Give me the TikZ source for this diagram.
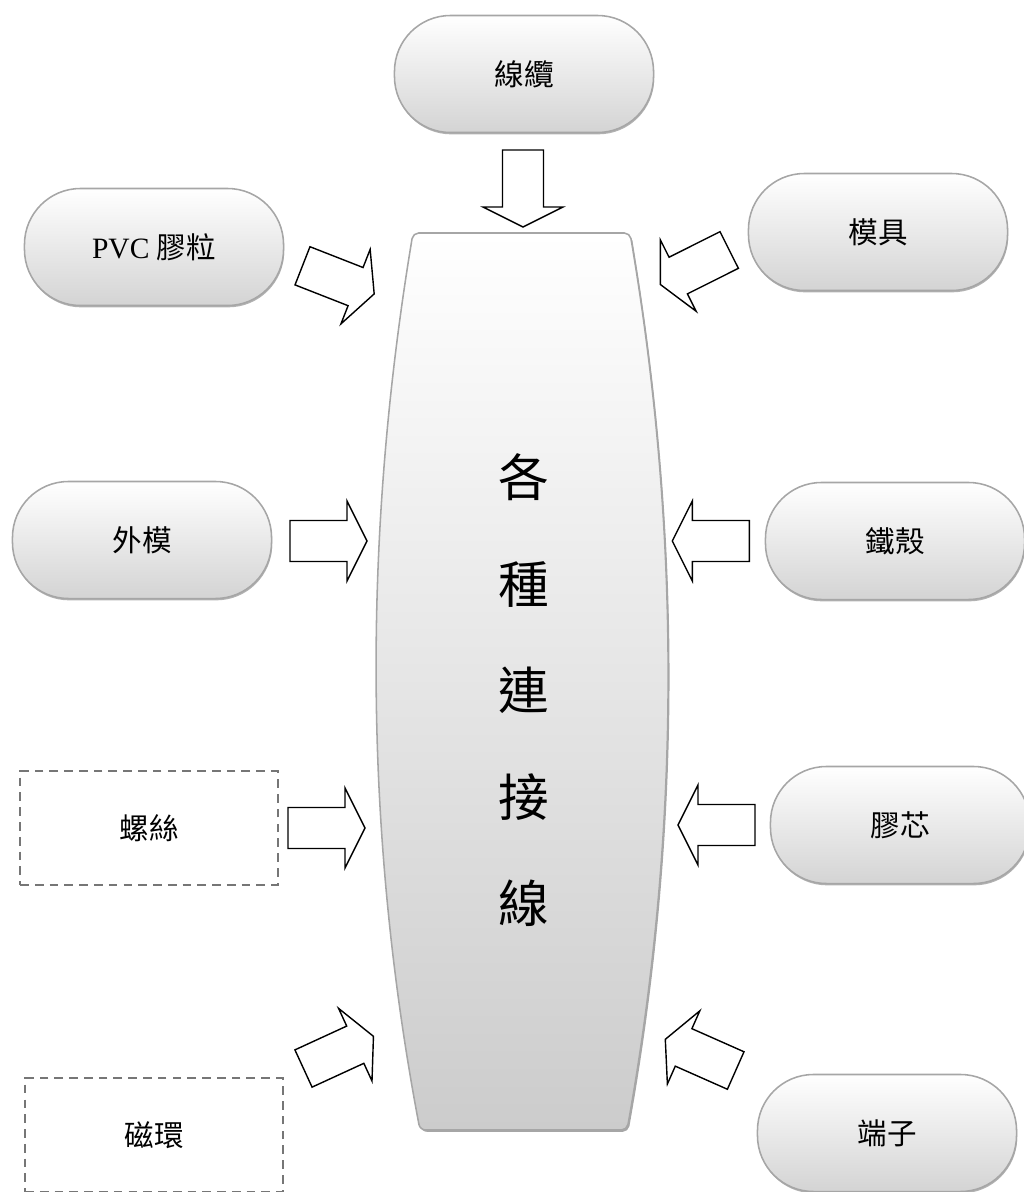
\documentclass[tikz,border=0pt]{standalone}
\usepackage{fontspec}
\setmainfont{Liberation Serif}
\newfontfamily\cjkfont{Noto Sans CJK TC}
\usetikzlibrary{shadows}
\definecolor{boxline}{HTML}{A6A6A6}
\definecolor{dashline}{HTML}{767676}
\newcommand{\blockarr}[3]{%
  \draw[barrow, shift={(#1,#2)}, rotate=#3]
    (0,20.5) -- (57,20.5) -- (57,40) -- (77,0) -- (57,-40) -- (57,-20.5) -- (0,-20.5) -- cycle;}
\begin{document}
\begin{tikzpicture}[x=0.025cm,y=-0.025cm,
  pill/.style={rectangle, rounded corners=1.4cm, minimum width=6.475cm, minimum height=2.925cm,
    draw=boxline, line width=1.1pt, top color=white, bottom color=black!17,
    general shadow={shadow xshift=0.5pt, shadow yshift=-1.3pt, fill=black!30},
    font=\cjkfont\fontsize{21}{25}\selectfont, inner sep=0pt},
  dbox/.style={rectangle, minimum width=6.44cm, minimum height=2.83cm,
    draw=dashline, line width=1.4pt, dash pattern=on 6.2pt off 4.3pt,
    font=\cjkfont\fontsize{21}{25}\selectfont, inner sep=0pt},
  barrow/.style={draw=black, fill=white, line width=1pt, line join=miter},
  centershape/.style={draw=boxline, line width=1.1pt, top color=white, bottom color=black!20,
    rounded corners=4pt,
    general shadow={shadow xshift=1pt, shadow yshift=-1.3pt, fill=black!35}},
  bigchar/.style={font=\cjkfont\fontsize{36}{40}\selectfont, inner sep=0pt}
]
\useasboundingbox (0,0) rectangle (1024,1192);

% central body
\path[centershape] (521,233) -- (630,233) .. controls (681,533) and (681,830) .. (627,1130)
  -- (420,1130) .. controls (363,830) and (363,533) .. (413,233) -- cycle;
\node[bigchar] (c1) at (524,477) {各};
\node[bigchar] (c2) at (524,585) {種};
\node[bigchar] (c3) at (524,690) {連};
\node[bigchar] (c4) at (524,797) {接};
\node[bigchar] (c5) at (524,903) {線};

% rounded source boxes
\node[pill] (cable) at (524,74) {線纜};
\node[pill] (pvc) at (154,247) {\rmfamily PVC {\cjkfont 膠粒}};
\node[pill] (outer) at (142,540) {外模};
\node[pill] (mold) at (878,232) {模具};
\node[pill] (shell) at (895,541) {鐵殼};
\node[pill] (core) at (900,825) {膠芯};
\node[pill] (term) at (887,1133) {端子};

% dashed boxes
\node[dbox] (screw) at (149,828) {螺絲};
\node[dbox] (ferrite) at (154,1135) {磁環};

% block arrows
\blockarr{523}{150}{-90}
\blockarr{302.5}{265.8}{-21.4}
\blockarr{290}{541}{0}
\blockarr{288}{828}{0}
\blockarr{303.5}{1068.5}{24.7}
\blockarr{729.2}{250}{-153.4}
\blockarr{749.3}{541}{180}
\blockarr{755}{825}{180}
\blockarr{735.7}{1070.5}{156.1}
\end{tikzpicture}
\end{document}
